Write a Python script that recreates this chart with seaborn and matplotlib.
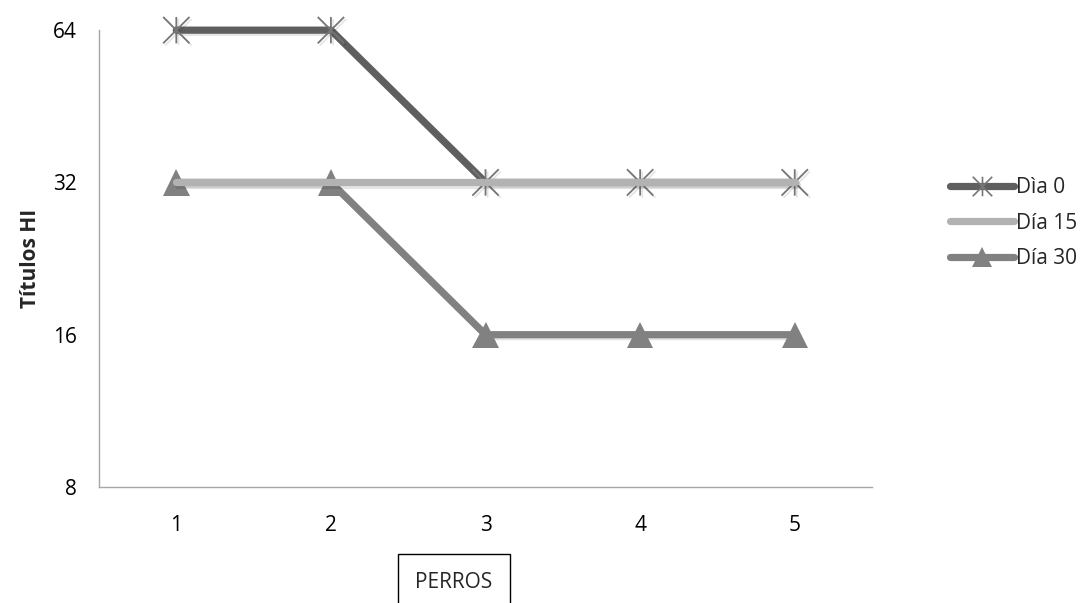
import numpy as np
import pandas as pd
import matplotlib
matplotlib.use("Agg")
import matplotlib.pyplot as plt
import seaborn as sns
from matplotlib.lines import Line2D
from matplotlib.path import Path
import matplotlib.patheffects as pe

sns.set_theme(style="white")
plt.rcParams["font.family"] = ["Open Sans", "DejaVu Sans"]

perros = [1, 2, 3, 4, 5]
dia0 = [64, 64, 32, 32, 32]
dia15 = [32, 32, 32, 32, 32]
dia30 = [32, 32, 16, 16, 16]
series_names = ["Dìa 0", "Día 15", "Día 30"]
y_ticks = [8, 16, 32, 64]

df = pd.DataFrame({
    "perro": perros * 3,
    "titulo": dia0 + dia15 + dia30,
    "serie": [series_names[0]] * 5 + [series_names[1]] * 5 + [series_names[2]] * 5,
})

colors = {"Dìa 0": "#5f5f5f", "Día 15": "#b2b2b2", "Día 30": "#818181"}

# asterisk: an X crossed by a vertical stroke
star = Path([(0, -1), (0, 1), (-1, -1), (1, 1), (-1, 1), (1, -1)],
            [Path.MOVETO, Path.LINETO, Path.MOVETO, Path.LINETO, Path.MOVETO, Path.LINETO])

shadow = [pe.SimpleLineShadow(offset=(1.5, -1.5), shadow_color="#000000", alpha=0.10),
          pe.Normal()]

FS = 15
LW = 5.2

fig = plt.figure(figsize=(10.81, 6.03), dpi=100)
ax = fig.add_axes([0.0916, 0.1924, 0.7151, 0.7576])

styles = {
    "Dìa 0": dict(marker=star, markersize=19, markeredgewidth=1.3,
                  markeredgecolor="#767676", zorder=3),
    "Día 30": dict(marker="^", markersize=19, markeredgewidth=0, zorder=2),
    "Día 15": dict(marker=None, zorder=4),
}
for name in ["Dìa 0", "Día 30", "Día 15"]:
    sub = df[df["serie"] == name]
    st = styles[name]
    sns.lineplot(data=sub, x="perro", y="titulo", ax=ax, color=colors[name],
                 linewidth=LW, solid_capstyle="round", legend=False,
                 markerfacecolor=colors[name], clip_on=False,
                 path_effects=shadow, **st)

ax.set_yscale("log", base=2)
ax.set_ylim(8, 64)
ax.set_yticks(y_ticks)
ax.set_yticklabels([str(v) for v in y_ticks])
ax.minorticks_off()
ax.set_xlim(0.5, 5.5)
ax.set_xticks(perros)
ax.set_xticklabels([str(p) for p in perros])
ax.tick_params(axis="both", length=0, labelsize=FS, colors="#000000")
ax.tick_params(axis="y", pad=16)
ax.tick_params(axis="x", pad=20)

for side in ["top", "right"]:
    ax.spines[side].set_visible(False)
for side in ["left", "bottom"]:
    ax.spines[side].set_color("#a6a6a6")
    ax.spines[side].set_linewidth(1.0)
ax.grid(False)

ax.set_xlabel("")
ax.set_ylabel("Títulos HI", fontsize=FS, fontweight="bold", labelpad=8.5)

# boxed category title below the axis
fig.text(0.420, 0.0348, "PERROS", fontsize=FS, ha="center", va="center",
         bbox=dict(boxstyle="square,pad=0.85", facecolor="white",
                   edgecolor="#000000", linewidth=1.0))

handles = [
    Line2D([], [], color=colors["Dìa 0"], lw=LW, marker=star, markersize=14,
           markeredgewidth=1.2, markeredgecolor="#767676", solid_capstyle="round"),
    Line2D([], [], color=colors["Día 15"], lw=LW, solid_capstyle="round"),
    Line2D([], [], color=colors["Día 30"], lw=LW, marker="^", markersize=15,
           markeredgewidth=0, solid_capstyle="round"),
]
fig.legend(handles, series_names, loc="center left", bbox_to_anchor=(0.871, 0.630),
           frameon=False, fontsize=FS, handlelength=3.1, handletextpad=0.05,
           labelspacing=0.7, borderaxespad=0)

fig.savefig("out.png", dpi=100, facecolor="white")
